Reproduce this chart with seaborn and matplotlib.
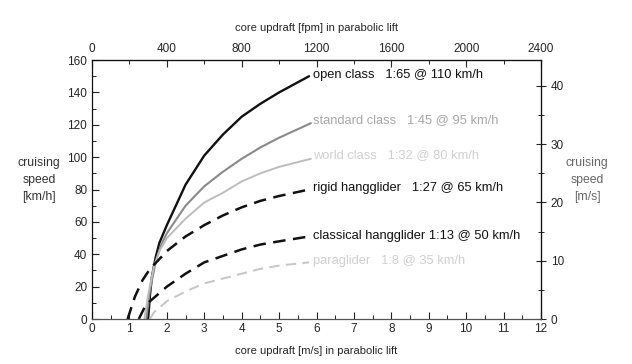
import matplotlib
matplotlib.use("Agg")
import matplotlib.pyplot as plt
import seaborn as sns
import pandas as pd
from matplotlib.ticker import FixedLocator

# ---- data ----
open_x = [1.5, 1.55, 1.6, 1.7, 1.8, 2.0, 2.5, 3.0, 3.5, 4.0, 4.5, 5.0, 5.8]
open_y = [0, 15, 26, 38, 47, 58, 83, 101, 114, 125, 133, 140, 150]
std_x = [1.45, 1.55, 1.7, 1.85, 2.0, 2.5, 3.0, 3.5, 4.0, 4.5, 5.0, 5.85]
std_y = [0, 18, 35, 46, 53, 70, 82, 91, 99, 106, 112, 121]
world_x = [1.4, 1.5, 1.65, 1.8, 2.0, 2.5, 3.0, 3.5, 4.0, 4.5, 5.0, 5.85]
world_y = [0, 15, 32, 42, 50, 62, 72, 78, 85, 90, 94, 99]
rigid_x = [0.95, 1.15, 1.35, 1.55, 1.8, 2.0, 2.5, 3.0, 3.5, 4.0, 4.5, 5.0, 5.8]
rigid_y = [0, 14, 24, 31, 37, 42, 51, 58, 64, 69, 73, 76, 80]
class_x = [1.25, 1.4, 1.55, 1.7, 2.0, 2.5, 3.0, 3.5, 4.0, 4.5, 5.0, 5.8]
class_y = [0, 7, 11, 14, 20, 28, 35, 39, 43, 46, 48, 51]
para_x = [1.55, 1.65, 1.8, 2.0, 2.5, 3.0, 3.5, 4.0, 4.5, 5.0, 5.8]
para_y = [0, 4, 7, 11, 17, 22, 25, 28, 31, 33, 35]

labels = ["open class   1:65 @ 110 km/h",
          "standard class   1:45 @ 95 km/h",
          "world class   1:32 @ 80 km/h",
          "rigid hangglider   1:27 @ 65 km/h",
          "classical hangglider 1:13 @ 50 km/h",
          "paraglider   1:8 @ 35 km/h"]
label_y = [151, 123, 101, 81, 51, 36]

x_ticks = list(range(0, 13))
y_ticks = [0, 20, 40, 60, 80, 100, 120, 140, 160]
fpm_ticks = [0, 400, 800, 1200, 1600, 2000, 2400]
ms_ticks = [0, 10, 20, 30, 40]

series = [(open_x, open_y), (std_x, std_y), (world_x, world_y),
          (rigid_x, rigid_y), (class_x, class_y), (para_x, para_y)]
colors = ["#111111", "#8a8a8a", "#bdbdbd", "#111111", "#111111", "#c8c8c8"]
text_colors = ["#111111", "#a8a8a8", "#d0d0d0", "#111111", "#111111", "#d0d0d0"]
dashed = [False, False, False, True, True, True]
widths = [1.7, 1.5, 1.4, 1.8, 1.8, 1.5]

rows = []
for name, (xs, ys) in zip(labels, series):
    for x, y in zip(xs, ys):
        rows.append({"name": name, "x": x, "y": y})
df = pd.DataFrame(rows)

sns.set_style("ticks")
plt.rcParams["font.family"] = ["Liberation Sans", "DejaVu Sans"]

fig = plt.figure(figsize=(6.32, 3.64), dpi=100)
ax = fig.add_axes([0.1456, 0.1236, 0.7104, 0.7114])

for name, c, d, w in zip(labels, colors, dashed, widths):
    sub = df[df["name"] == name]
    sns.lineplot(data=sub, x="x", y="y", ax=ax, color=c, lw=w,
                 linestyle=(0, (5, 3)) if d else "-", sort=False,
                 estimator=None)

for name, yv, tc in zip(labels, label_y, text_colors):
    ax.text(5.9, yv, name, fontsize=9.3, color=tc, va="center", ha="left")

ax.set_xlim(0, 12)
ax.set_ylim(0, 160)
ax.set_xlabel("")
ax.set_ylabel("")
ax.xaxis.set_major_locator(FixedLocator(x_ticks))
ax.xaxis.set_minor_locator(FixedLocator([t + 0.5 for t in x_ticks[:-1]]))
ax.yaxis.set_major_locator(FixedLocator(y_ticks))
ax.yaxis.set_minor_locator(FixedLocator([t + 10 for t in y_ticks[:-1]]))
ax.tick_params(axis="both", which="major", direction="in", length=5,
               width=0.8, labelsize=8.5, color="#222222")
ax.tick_params(axis="both", which="minor", direction="in", length=3,
               width=0.7, color="#222222")
ax.tick_params(axis="x", pad=3)
for s in ax.spines.values():
    s.set_linewidth(0.9)
    s.set_color("#111111")
ax.spines["bottom"].set_color("#555555")

top = ax.secondary_xaxis("top", functions=(lambda v: v * 200, lambda v: v / 200))
top.xaxis.set_major_locator(FixedLocator(fpm_ticks))
top.xaxis.set_minor_locator(FixedLocator([t + 200 for t in fpm_ticks[:-1]]))
top.tick_params(which="major", direction="in", length=5, width=0.8, labelsize=8.5)
top.tick_params(which="minor", direction="in", length=3, width=0.7)
top.set_xlabel("core updraft [fpm] in parabolic lift", fontsize=8, labelpad=9)

right = ax.secondary_yaxis("right", functions=(lambda v: v / 3.6, lambda v: v * 3.6))
right.yaxis.set_major_locator(FixedLocator(ms_ticks))
right.yaxis.set_minor_locator(FixedLocator([t + 5 for t in ms_ticks]))
right.tick_params(which="major", direction="inout", length=7, width=0.8, labelsize=8.5)
right.tick_params(which="minor", direction="inout", length=5, width=0.7)
right.spines["right"].set_color("#333333")

fig.text(0.5, 0.035, "core updraft [m/s] in parabolic lift", fontsize=8,
         ha="center", va="center")
fig.text(0.062, 0.505, "cruising\nspeed\n[km/h]", fontsize=8.8, ha="center",
         va="center", linespacing=1.55, color="#333333")
fig.text(0.929, 0.505, "cruising\nspeed\n[m/s]", fontsize=8.8, ha="center",
         va="center", linespacing=1.55, color="#666666")

fig.savefig("out.png", dpi=100)
